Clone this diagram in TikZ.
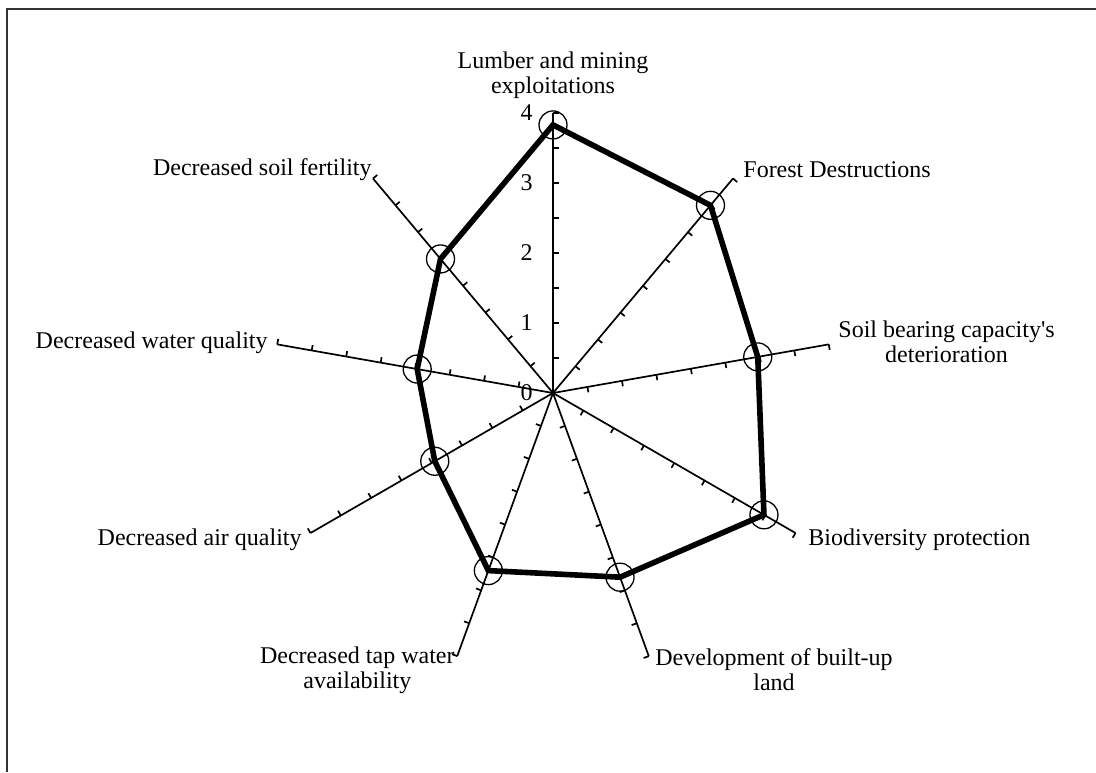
\documentclass[tikz,border=0pt]{standalone}
\usepackage{fontspec}
\setmainfont{Liberation Serif}
\usepackage{tikz}

\tikzset{
  axisline/.style={line width=0.85pt},
  datapt/.style={circle,draw,line width=0.65pt,minimum size=14pt,inner sep=0pt},
  poly/.style={line width=2.8pt},
  lbl/.style={inner sep=0pt,align=center},
  framec/.style={draw=black!80,line width=1pt}
}

\begin{document}
\begin{tikzpicture}[x=0.5pt,y=0.5pt,font=\fontsize{12}{12.5}\selectfont]
\useasboundingbox (-553,-379) rectangle (543,393);
\draw[framec] (543,384) -- (-545.5,384) -- (-545.5,-379);
% axes with ticks every half unit (70 = one unit)
\foreach \a/\n in {90/1,50/2,10/3,-30/4,-70/5,-110/6,-150/7,170/8,130/9} {
  \draw[axisline] (0,0) -- (\a:280) coordinate (a\n);
  \foreach \r in {35,70,...,280} \draw[axisline] (\a:\r) -- ++(\a-90:5.5);
}
\foreach \v in {0,...,4} \node[lbl,anchor=east] (n\v) at (-20,\v*70) {\v};
% data points
\foreach \a/\v/\n in {90/3.83/1,50/3.5/2,10/2.97/3,-30/3.48/4,-70/2.8/5,-110/2.7/6,-150/1.95/7,170/1.97/8,130/2.5/9}
  \node[datapt] (p\n) at (\a:{\v*70}) {};
\draw[poly] (p1.center) -- (p2.center) -- (p3.center) -- (p4.center) -- (p5.center)
  -- (p6.center) -- (p7.center) -- (p8.center) -- (p9.center) -- cycle;
% category labels
\node[lbl,anchor=south] (l1) at (0,294) {Lumber and mining\\exploitations};
\node[lbl,anchor=west] (l2) at (190,223) {Forest Destructions};
\node[lbl,anchor=west] (l3) at (285,51) {Soil bearing capacity\textquotesingle s\\deterioration};
\node[lbl,anchor=west] (l4) at (255,-147) {Biodiversity protection};
\node[lbl,anchor=west] (l5) at (102,-277) {Development of built-up\\land};
\node[lbl,anchor=east] (l6) at (-98,-277) {Decreased tap water\\availability};
\node[lbl,anchor=east] (l7) at (-251,-147) {Decreased air quality};
\node[lbl,anchor=east] (l8) at (-285,50) {Decreased water quality};
\node[lbl,anchor=east] (l9) at (-181,223) {Decreased soil fertility};
\end{tikzpicture}
\end{document}
